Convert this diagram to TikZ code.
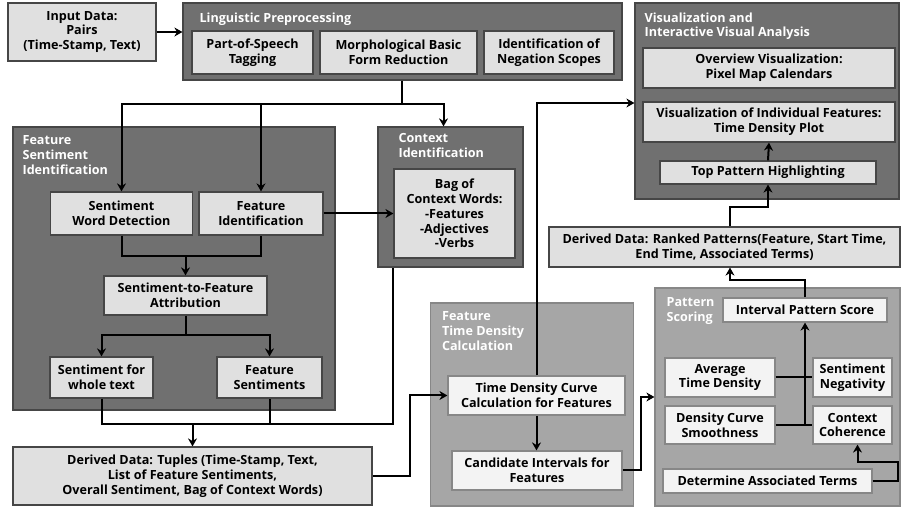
\documentclass[tikz,border=0pt]{standalone}
\usepackage{fontspec}
\setmainfont{Open Sans}
\usetikzlibrary{arrows.meta, calc, positioning}
\definecolor{groupdark}{RGB}{112,112,112}
\definecolor{grouplight}{RGB}{166,166,166}
\definecolor{itemdark}{RGB}{224,224,224}
\definecolor{itemlight}{RGB}{243,243,243}
\definecolor{edgedark}{RGB}{70,70,70}
\definecolor{edgelight}{RGB}{135,135,135}
\newcommand\boxfont{\fontsize{12.6}{14.8}\selectfont\bfseries}

\tikzset{
  group/.style={draw=edgedark, fill=groupdark, line width=1.2pt, inner sep=0pt},
  grouplite/.style={draw=edgelight, fill=grouplight, line width=1.2pt, inner sep=0pt},
  grouptitle/.style={anchor=north west, text=white, align=left, inner sep=0pt, font=\boxfont},
  item/.style={draw=edgedark, fill=itemdark, line width=1.2pt, align=center, inner sep=0pt, font=\boxfont},
  itemlite/.style={item, draw=edgelight, fill=itemlight},
  flow/.style={-{Stealth[length=8pt,width=9pt]}, line width=2pt},
  link/.style={line width=2pt},
}

\begin{document}
\begin{tikzpicture}[x=1pt, y=-1pt]
    \useasboundingbox (0,0) rectangle (903,510);

    % Group boxes
    \node[group, minimum width=439pt, minimum height=77pt] (ling) at (402.5,41.5) {};
    \node[group, minimum width=322pt, minimum height=283pt] (fsi) at (174,268.5) {};
    \node[group, minimum width=145pt, minimum height=140pt] (ctx) at (450.5,197) {};
    \node[group, minimum width=264pt, minimum height=196pt] (vis) at (767,101) {};
    \node[grouplite, minimum width=203pt, minimum height=203pt] (ftd) at (532,404.5) {};
    \node[grouplite, minimum width=245pt, minimum height=218pt] (ps) at (777.5,397) {};

    % Group titles
    \node[grouptitle] (lingtitle) at ([shift={(17,10)}]ling.north west) {Linguistic Preprocessing};
    \node[grouptitle] (fsititle) at ([shift={(10,9)}]fsi.north west) {Feature\\Sentiment\\Identification};
    \node[grouptitle] (ctxtitle) at ([shift={(21,7)}]ctx.north west) {Context\\Identification};
    \node[grouptitle] (vistitle) at ([shift={(10,10)}]vis.north west) {Visualization and\\Interactive Visual Analysis};
    \node[grouptitle] (ftdtitle) at ([shift={(12,9)}]ftd.north west) {Feature\\Time Density\\Calculation};
    \node[grouptitle] (pstitle) at ([shift={(12,10)}]ps.north west) {Pattern\\Scoring};

    % Input and preprocessing
    \node[item, minimum width=148pt, minimum height=58pt] (input) at (82,32) {Input Data:\\Pairs\\(Time-Stamp, Text)};
    \node[item, minimum width=121pt, minimum height=43pt] (pos) at (252.5,52.5) {Part-of-Speech\\Tagging};
    \node[item, minimum width=157pt, minimum height=43pt] (morph) at (398.5,52.5) {Morphological Basic\\Form Reduction};
    \node[item, minimum width=130pt, minimum height=43pt] (neg) at (549,52.5) {Identification of\\Negation Scopes};

    % Feature sentiment identification
    \node[item, minimum width=142pt, minimum height=43pt] (swd) at (121.5,213.5) {Sentiment\\Word Detection};
    \node[item, minimum width=124pt, minimum height=43pt] (fid) at (261,213.5) {Feature\\Identification};
    \node[item, minimum width=163pt, minimum height=39pt] (attr) at (185.5,295.5) {Sentiment-to-Feature\\Attribution};
    \node[item, minimum width=103pt, minimum height=41pt] (swt) at (101.5,377.5) {Sentiment for\\whole text};
    \node[item, minimum width=105pt, minimum height=41pt] (fs) at (269.5,377.5) {Feature\\Sentiments};

    % Context identification
    \node[item, minimum width=121pt, minimum height=89pt] (bag) at (454.5,213.5) {Bag of\\Context Words:\\-Features\\-Adjectives\\-Verbs};

    % Derived data
    \node[item, minimum width=359pt, minimum height=58pt] (tuples) at (192.5,476) {Derived Data: Tuples (Time-Stamp, Text,\\List of Feature Sentiments,\\Overall Sentiment, Bag of Context Words)};
    \node[item, minimum width=351pt, minimum height=40pt] (ranked) at (724.5,247) {Derived Data: Ranked Patterns(Feature, Start Time,\\End Time, Associated Terms)};

    % Visualization
    \node[item, minimum width=252pt, minimum height=40pt] (overview) at (769,68) {Overview Visualization:\\Pixel Map Calendars};
    \node[item, minimum width=252pt, minimum height=40pt] (indiv) at (769,122) {Visualization of Individual Features:\\Time Density Plot};
    \node[item, minimum width=216pt, minimum height=23pt] (top) at (768,172.5) {Top Pattern Highlighting};

    % Time density
    \node[itemlite, minimum width=177pt, minimum height=39pt] (tdc) at (536.5,395.5) {Time Density Curve\\Calculation for Features};
    \node[itemlite, minimum width=170pt, minimum height=39pt] (cif) at (537,470.5) {Candidate Intervals for\\Features};

    % Pattern scoring
    \node[itemlite, minimum width=164pt, minimum height=24pt] (ips) at (805,310) {Interval Pattern Score};
    \node[itemlite, minimum width=110pt, minimum height=39pt] (atd) at (720,377.5) {Average\\Time Density};
    \node[itemlite, minimum width=79pt, minimum height=39pt] (sn) at (852.5,377.5) {Sentiment\\Negativity};
    \node[itemlite, minimum width=110pt, minimum height=38pt] (dcs) at (720,425) {Density Curve\\Smoothness};
    \node[itemlite, minimum width=79pt, minimum height=38pt] (cc) at (852.5,425) {Context\\Coherence};
    \node[itemlite, minimum width=209pt, minimum height=24pt] (dat) at (767.5,481) {Determine Associated Terms};

    % Connectors
    \draw[flow] (input.east) -- (input.east -| ling.west);
    \path ([xshift=3pt]morph.south |- ling.south) ++(0,23) coordinate (split);
    \draw[link] ([xshift=3pt]morph.south |- ling.south) -- (split);
    \draw[flow] (split) -| (swd.north);
    \draw[flow] (split) -| (fid.north);
    \draw[flow] (split) -| ([xshift=-7pt]ctx.north);
    \draw[flow] (fid.east) -- (bag.west);

    \path (swd.south) ++(0,20) coordinate (attrjoin);
    \draw[link] (swd.south) -- (attrjoin) -| (fid.south);
    \draw[flow] (attrjoin -| attr.north) -- (attr.north);
    \path (attr.south) ++(0,19) coordinate (sentsplit);
    \draw[flow] (attr.south) -- (sentsplit) -| (swt.north);
    \draw[flow] (sentsplit) -| (fs.north);

    \path (swt.south) ++(0,25) coordinate (tuplejoin);
    \draw[link] (swt.south) -- (tuplejoin) -| (fs.south);
    \draw[link] (tuplejoin) -| (bag.west |- ctx.south);
    \draw[flow] (tuplejoin -| tuples.north) -- (tuples.north);

    \draw[flow] (tuples.east) -- ++(37,0) |- (tdc.west);
    \draw[flow] (tdc.north) |- ([yshift=-2pt]vis.west);
    \draw[flow] (tdc.south) -- (tdc.south |- cif.north);
    \draw[flow] (cif.east) -- ++(18,0) |- (ps.west);

    \draw[link] (atd.east) -- (sn.west);
    \draw[link] (dcs.east) -- (cc.west);
    \draw[flow] (dcs.east -| ips.south) -- (ips.south);
    \draw[flow] (dat.east) -- ++(25,0) -- ++(0,-19) -| ([xshift=5pt]cc.south);
    \draw[flow] (ips.north) -- ++(0,-17) -| ([xshift=5.5pt]ranked.south);
    \draw[flow] ([xshift=5.5pt]ranked.north) -- ++(0,-19) -| (top.south);
    \draw[flow] (top.north) -- (indiv.south);
\end{tikzpicture}
\end{document}
